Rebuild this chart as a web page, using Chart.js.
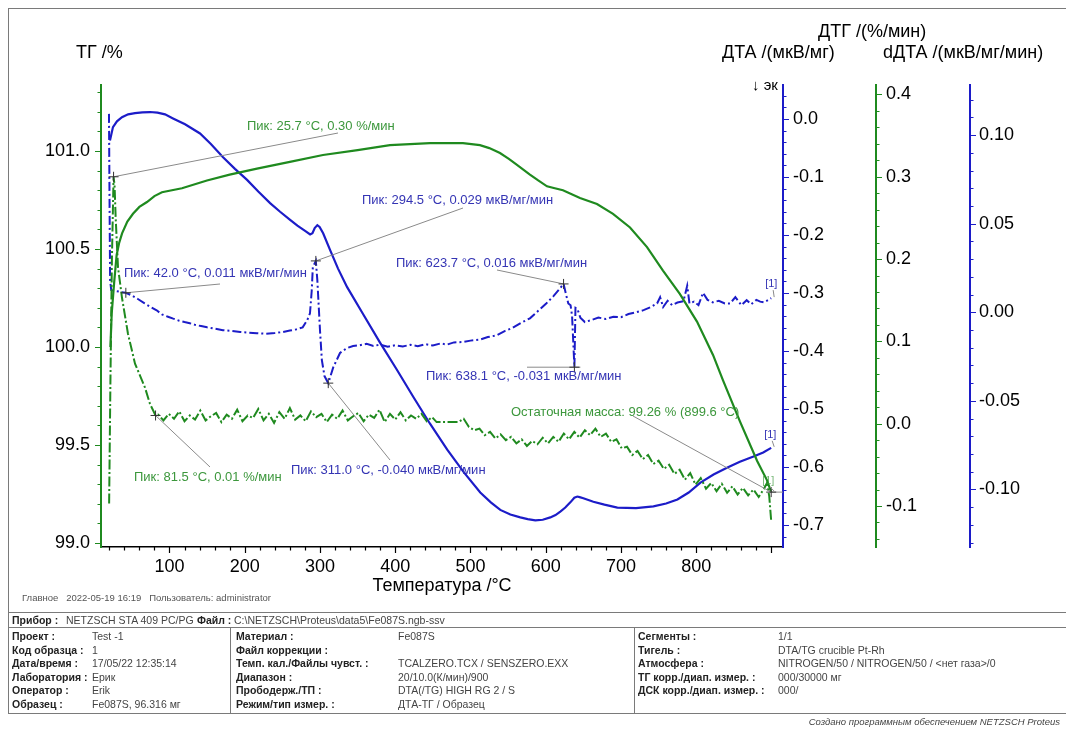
<!DOCTYPE html>
<html>
<head>
<meta charset="utf-8">
<script src="https://cdn.jsdelivr.net/npm/chart.js@4.4.1/dist/chart.umd.min.js"></script>
<style>
  html, body { margin: 0; padding: 0; background: #fff; }
  #page { position: relative; width: 1066px; height: 729px; overflow: hidden;
          font-family: "Liberation Sans", Arial, sans-serif; }
  #plot { position: absolute; left: 0; top: 0; }
  .frame { position: absolute; left: 8px; top: 8px; width: 1070px; height: 706px;
           border: 1px solid #7a7a7a; box-sizing: border-box; }
  .hl { position: absolute; height: 0; border-top: 1px solid #7a7a7a; }
  .vl { position: absolute; width: 0; border-left: 1px solid #7a7a7a; }
  .t { position: absolute; font-size: 10.5px; line-height: 12px; color: #444; white-space: nowrap; }
  .b { font-weight: bold; color: #222; }
  .meta { position: absolute; font-size: 9.5px; line-height: 12px; color: #555; white-space: nowrap; }
  .foot { position: absolute; right: 6px; top: 716px; font-size: 9.5px; line-height: 12px;
          font-style: italic; color: #444; white-space: nowrap; }
</style>
</head>
<body>
<div id="page">
  <div class="frame"></div>
  <canvas id="plot" width="1066" height="729"></canvas>

  <div class="meta" style="left:22px;top:592px">Главное&nbsp;&nbsp;&nbsp;2022-05-19 16:19&nbsp;&nbsp;&nbsp;Пользователь: administrator</div>

  <div class="hl" style="left:8px;top:612px;width:1060px"></div>
  <div class="hl" style="left:8px;top:627px;width:1060px"></div>
  <div class="vl" style="left:230px;top:627px;height:86px"></div>
  <div class="vl" style="left:634px;top:627px;height:86px"></div>

  <div class="t b" style="left:12px;top:614px">Прибор :</div>
  <div class="t" style="left:66px;top:614px">NETZSCH STA 409 PC/PG</div>
  <div class="t b" style="left:197px;top:614px">Файл :</div>
  <div class="t" style="left:234px;top:614px">C:\NETZSCH\Proteus\data5\Fe087S.ngb-ssv</div>

  <div class="t b" style="left:12px;top:630px">Проект :</div>
  <div class="t" style="left:92px;top:630px">Test -1</div>
  <div class="t b" style="left:12px;top:643.5px">Код образца :</div>
  <div class="t" style="left:92px;top:643.5px">1</div>
  <div class="t b" style="left:12px;top:657px">Дата/время :</div>
  <div class="t" style="left:92px;top:657px">17/05/22 12:35:14</div>
  <div class="t b" style="left:12px;top:670.5px">Лаборатория :</div>
  <div class="t" style="left:92px;top:670.5px">Ерик</div>
  <div class="t b" style="left:12px;top:684px">Оператор :</div>
  <div class="t" style="left:92px;top:684px">Erik</div>
  <div class="t b" style="left:12px;top:697.5px">Образец :</div>
  <div class="t" style="left:92px;top:697.5px">Fe087S, 96.316 мг</div>

  <div class="t b" style="left:236px;top:630px">Материал :</div>
  <div class="t" style="left:398px;top:630px">Fe087S</div>
  <div class="t b" style="left:236px;top:643.5px">Файл коррекции :</div>
  <div class="t b" style="left:236px;top:657px">Темп. кал./Файлы чувст. :</div>
  <div class="t" style="left:398px;top:657px">TCALZERO.TCX / SENSZERO.EXX</div>
  <div class="t b" style="left:236px;top:670.5px">Диапазон :</div>
  <div class="t" style="left:398px;top:670.5px">20/10.0(К/мин)/900</div>
  <div class="t b" style="left:236px;top:684px">Прободерж./ТП :</div>
  <div class="t" style="left:398px;top:684px">DTA(/TG) HIGH RG 2 / S</div>
  <div class="t b" style="left:236px;top:697.5px">Режим/тип измер. :</div>
  <div class="t" style="left:398px;top:697.5px">ДТА-ТГ / Образец</div>

  <div class="t b" style="left:638px;top:630px">Сегменты :</div>
  <div class="t" style="left:778px;top:630px">1/1</div>
  <div class="t b" style="left:638px;top:643.5px">Тигель :</div>
  <div class="t" style="left:778px;top:643.5px">DTA/TG crucible Pt-Rh</div>
  <div class="t b" style="left:638px;top:657px">Атмосфера :</div>
  <div class="t" style="left:778px;top:657px">NITROGEN/50 / NITROGEN/50 / &lt;нет газа&gt;/0</div>
  <div class="t b" style="left:638px;top:670.5px">ТГ корр./диап. измер. :</div>
  <div class="t" style="left:778px;top:670.5px">000/30000 мг</div>
  <div class="t b" style="left:638px;top:684px">ДСК корр./диап. измер. :</div>
  <div class="t" style="left:778px;top:684px">000/</div>

  <div class="foot">Создано программным обеспечением NETZSCH Proteus</div>
</div>

<script>
// ---- measured curves: [temperature °C, value] ----
// ТГ, %
const tgCurve = [
  [21.5,100.00],[23.2,100.17],[26.5,100.33],[29.8,100.47],[33.0,100.53],[37.0,100.58],[44.0,100.64],
  [51.5,100.68],[60.0,100.715],[70.1,100.74],[80.0,100.77],[90.0,100.79],[116.6,100.81],[149.8,100.85],
  [180.0,100.88],[216.3,100.91],[260.0,100.945],[304.0,100.98],[350.0,101.005],[393.0,101.03],
  [446.2,101.04],[490.0,101.04],[512.6,101.03],[525.0,101.015],[539.2,100.99],[551.0,100.96],
  [561.8,100.93],[579.0,100.88],[590.0,100.85],[601.7,100.82],[612.0,100.81],[622.9,100.80],
  [645.5,100.76],[668.1,100.73],[689.4,100.68],[712.0,100.61],[734.6,100.51],[755.8,100.39],
  [778.4,100.27],[801.0,100.13],[822.3,99.96],[835.6,99.83],[858.2,99.62],[880.8,99.42],
  [894.1,99.32],[899.6,99.26]
];

// ДТГ, %/мин
const dtgCurve = [
  [19.8,-0.097],[21.5,0.05],[23.5,0.20],[25.7,0.30],[27.0,0.29],[28.5,0.25],[31.6,0.19],[36.9,0.153],
  [44.9,0.109],[54.2,0.073],[67.4,0.044],[74.1,0.024],[81.5,0.010],
  [85,0.011],[92,0.004],[99,0.012],[106,0.006],[113,0.015],[120,0.003],[127,0.010],[134,0.005],
  [141,0.016],[148,0.004],[155,0.009],[162,0.013],[169,0.002],[176,0.011],[183,0.006],[190,0.017],
  [197,0.003],[204,0.010],[211,0.007],[218,0.018],[225,0.004],[232,0.012],[239,0.001],[246,0.014],
  [253,0.006],[260,0.019],[267,0.005],[274,0.010],[281,0.003],[288,0.015],[295,0.008],[302,0.012],
  [309,0.002],[316,0.011],[323,0.006],[330,0.016],[337,0.004],[344,0.009],[351,0.013],[358,0.003],
  [365,0.011],[372,0.007],[379,0.017],[386,0.002],[393,0.012],[400,0.005],[407,0.014],[414,0.004],
  [421,0.010],[428,0.006],[435,0.012],[442,0.003],[449,0.008],[455,0.002],[470,0.002],[484,0.002],
  [491,0.006],[498,-0.004],[505,-0.008],[512,-0.006],[519,-0.014],[526,-0.010],[533,-0.018],
  [540,-0.013],[547,-0.020],[554,-0.016],[561,-0.024],[568,-0.019],[575,-0.027],[582,-0.021],
  [589,-0.025],[596,-0.017],[603,-0.024],[610,-0.016],[617,-0.022],[624,-0.012],[631,-0.019],
  [638,-0.010],[645,-0.017],[652,-0.008],[659,-0.014],[666,-0.006],[673,-0.016],[680,-0.012],
  [687,-0.022],[694,-0.019],[701,-0.030],[708,-0.028],[715,-0.038],[722,-0.033],[729,-0.043],
  [736,-0.038],[743,-0.049],[750,-0.045],[757,-0.055],[764,-0.050],[771,-0.061],[778,-0.056],
  [785,-0.068],[792,-0.060],[799,-0.074],[806,-0.066],[813,-0.079],[820,-0.072],[827,-0.082],
  [834,-0.073],[841,-0.084],[848,-0.076],[855,-0.086],[862,-0.078],[869,-0.087],[876,-0.080],
  [883,-0.089],[890,-0.079],[894,-0.072],[897,-0.088],[899.6,-0.118]
];

// ДТА, мкВ/мг
const dtaCurve = [
  [20.9,-0.037],[24.9,-0.014],[30.2,-0.004],[36.9,0.003],[45,0.008],[54.2,0.010],[64,0.0115],
  [74.1,0.012],[84,0.011],[94.1,0.008],[104.7,0.001],[120.7,-0.009],[140.6,-0.025],[155,-0.043],
  [171.2,-0.066],[187,-0.086],[203.1,-0.105],[218,-0.125],[233.7,-0.145],[247,-0.160],[260.3,-0.174],
  [270,-0.184],[280.2,-0.193],[286.9,-0.199],[290,-0.197],[293,-0.188],[296.5,-0.183],[299.5,-0.186],
  [304.2,-0.197],[313.5,-0.226],[324,-0.258],[336.1,-0.290],[358,-0.338],[380,-0.386],[402,-0.432],
  [423.9,-0.479],[446,-0.525],[469.1,-0.570],[491,-0.609],[513,-0.644],[527,-0.661],[539.6,-0.674],
  [553,-0.682],[566.2,-0.687],[576,-0.690],[586.2,-0.692],[596,-0.691],[606.1,-0.687],[613,-0.683],
  [619.4,-0.677],[626,-0.670],[632.7,-0.661],[638,-0.653],[642,-0.651],[645,-0.652],[650,-0.654],
  [663.3,-0.660],[678,-0.665],[695.2,-0.670],[720,-0.671],[743.1,-0.668],[760,-0.663],[775,-0.656],
  [790,-0.644],[805.6,-0.627],[823,-0.613],[841.5,-0.601],[858,-0.591],[876.1,-0.582],[889,-0.575],
  [899.6,-0.567]
];

// dДТА, мкВ/мг/мин
const ddtaCurve = [
  [19.6,0.112],[20.4,0.06],[21.1,0.018],[22.6,0.0125],[30,0.0119],[36,0.0114],[42.0,0.011],[50,0.0095],
  [58,0.0075],[67,0.005],[75,0.003],[83,0.0011],[90,-0.0012],[98,-0.0025],[105,-0.0036],[112,-0.0046],
  [120,-0.0055],[127,-0.0062],[134,-0.0071],[142,-0.0078],[150,-0.0085],[160,-0.0092],[171,-0.0101],
  [182,-0.0105],[194,-0.0111],[205,-0.0115],[216,-0.0118],[228,-0.0121],[240,-0.0117],[250,-0.0112],
  [260,-0.0103],[268,-0.0097],[277,-0.0085],[283,-0.0045],[286.7,-0.0006],[289,0.012],[290.5,0.0255],
  [294.5,0.029],[296.5,0.018],[298,0.006],[300,-0.010],[302.5,-0.027],[306,-0.036],[311.0,-0.040],
  [317.7,-0.031],[326.6,-0.023],[335.5,-0.0203],[344,-0.019],[353,-0.0186],[362,-0.0178],[371,-0.0190],
  [380,-0.0183],[390,-0.0195],[400,-0.0186],[410,-0.0193],[420,-0.0184],[430,-0.0191],[440,-0.0180],
  [450,-0.0188],[460,-0.0176],[469,-0.0182],[478,-0.0170],[490,-0.0168],[500,-0.0160],[512,-0.0155],
  [523,-0.0140],[535,-0.0130],[546,-0.0105],[556,-0.0088],[567,-0.0060],[579,-0.0034],[590,0.0008],
  [601,0.0051],[610,0.0090],[618.9,0.0135],[623.7,0.016],[627,0.0100],[630,0.0050],[633,0.0040],
  [635,-0.0020],[638.1,-0.031],[639.5,0.0025],[642,0.0020],[646,-0.0030],[652,-0.0055],[660,-0.0045],
  [670,-0.0030],[680,-0.0038],[690,-0.0025],[700,-0.0028],[710,-0.0010],[720,0.0000],[730,0.0012],
  [740,0.0030],[748,0.0050],[752,0.0085],[756,0.0030],[762,0.0065],[768,0.0040],[775,0.0055],
  [783,0.0062],[788,0.0150],[791,0.0050],[797,0.0060],[803,0.0040],[809,0.0110],[815,0.0070],
  [822,0.0056],[830,0.0065],[838,0.0050],[845,0.0050],[852,0.0085],[860,0.0040],[867,0.0068],
  [873,0.0045],[880,0.0070],[885,0.0060],[890,0.0056],[896,0.0070],[899.6,0.0080]
];

// ---- axis ranges and tick labels ----
const tempRange = [9.0, 915.3];
const tempTicks = [100, 200, 300, 400, 500, 600, 700, 800];
const tgRange   = [98.98, 101.337];
const tgTicks   = [99.0, 99.5, 100.0, 100.5, 101.0];
const dtaRange  = [-0.738, 0.0586];
const dtaTicks  = [0.0, -0.1, -0.2, -0.3, -0.4, -0.5, -0.6, -0.7];
const dtgRange  = [-0.1498, 0.4115];
const dtgTicks  = [-0.1, 0.0, 0.1, 0.2, 0.3, 0.4];
const ddtaRange = [-0.1325, 0.1283];
const ddtaTicks = [-0.10, -0.05, 0.00, 0.05, 0.10];

// ---- peak / result labels ----
const peakNotes = [
  { text: 'Пик: 25.7 °C, 0.30 %/мин',          axis: 'yDTG',  t: 25.7,  v: 0.30,   green: true,  tx: 247, ty: 126, lx: 338, ly: 133 },
  { text: 'Пик: 42.0 °C, 0.011 мкВ/мг/мин',     axis: 'yDDTA', t: 42.0,  v: 0.011,  green: false, tx: 124, ty: 273, lx: 220, ly: 284 },
  { text: 'Пик: 294.5 °C, 0.029 мкВ/мг/мин',    axis: 'yDDTA', t: 294.5, v: 0.029,  green: false, tx: 362, ty: 200, lx: 463, ly: 208 },
  { text: 'Пик: 623.7 °C, 0.016 мкВ/мг/мин',    axis: 'yDDTA', t: 623.7, v: 0.016,  green: false, tx: 396, ty: 263, lx: 497, ly: 270 },
  { text: 'Пик: 638.1 °C, -0.031 мкВ/мг/мин',   axis: 'yDDTA', t: 638.1, v: -0.031, green: false, tx: 426, ty: 376, lx: 527, ly: null },
  { text: 'Пик: 311.0 °C, -0.040 мкВ/мг/мин',   axis: 'yDDTA', t: 311.0, v: -0.040, green: false, tx: 291, ty: 470, lx: 390, ly: 460 },
  { text: 'Пик: 81.5 °C, 0.01 %/мин',           axis: 'yDTG',  t: 81.5,  v: 0.01,   green: true,  tx: 134, ty: 477, lx: 210, ly: 467 },
  { text: 'Остаточная масса: 99.26 % (899.6 °C)', axis: 'yTG', t: 899.6, v: 99.26,  green: true,  tx: 511, ty: 412, lx: 633, ly: 416, toAxis: true }
];

const FONT = '"Liberation Sans", Arial, sans-serif';
const GREEN = '#1f8a1f';
const BLUE = '#1c1cc8';
const TEXT_GREEN = '#3c973c';
const TEXT_BLUE = '#3434b4';

const toXY = arr => arr.map(p => ({ x: p[0], y: p[1] }));
const fixedTicks = list => scale => { scale.ticks = list.map(v => ({ value: v })); };

function yAxis(pos, range, ticks, color, width, pad, digits) {
  return {
    type: 'linear', position: pos, min: range[0], max: range[1],
    afterFit: s => { s.width = width; },
    afterBuildTicks: fixedTicks(ticks),
    grid: { display: false, drawTicks: false },
    border: { display: true, color: color, width: 2 },
    ticks: { padding: pad, color: '#000', font: { family: FONT, size: 18 }, autoSkip: false,
             callback: v => Number(v).toFixed(digits) }
  };
}

// minor/major tick marks along each axis line
const tickMarks = [
  { id: 'x',     side: 'bottom', from: 20,    to: 900,  minor: 20,   major: 100,  color: '#000' },
  { id: 'yTG',   side: 'left',   from: 99.0,  to: 101.3, minor: 0.1, major: 0.5,  color: GREEN },
  { id: 'yDTA',  side: 'right',  from: -0.72, to: 0.04, minor: 0.02, major: 0.1,  color: BLUE },
  { id: 'yDTG',  side: 'right',  from: -0.14, to: 0.40, minor: 0.02, major: 0.1,  color: GREEN },
  { id: 'yDDTA', side: 'right',  from: -0.13, to: 0.12, minor: 0.01, major: 0.05, color: BLUE }
];

const decor = {
  id: 'decor',
  afterDraw(chart) {
    const ctx = chart.ctx;
    ctx.save();
    tickMarks.forEach(m => {
      const s = chart.scales[m.id];
      ctx.strokeStyle = m.color;
      ctx.lineWidth = 1.2;
      const n = Math.round((m.to - m.from) / m.minor);
      ctx.beginPath();
      for (let i = 0; i <= n; i++) {
        const v = m.from + i * m.minor;
        const r = v / m.major;
        const len = Math.abs(r - Math.round(r)) < 1e-6 ? 6 : 3.5;
        const p = Math.round(s.getPixelForValue(v)) + 0.5;
        if (m.side === 'bottom') { ctx.moveTo(p, s.top); ctx.lineTo(p, s.top + len); }
        else if (m.side === 'left') { ctx.moveTo(s.right, p); ctx.lineTo(s.right - len, p); }
        else { ctx.moveTo(s.left, p); ctx.lineTo(s.left + len, p); }
      }
      ctx.stroke();
    });

    // axis titles
    ctx.fillStyle = '#000';
    ctx.textBaseline = 'middle';
    ctx.textAlign = 'left';
    ctx.font = '18px ' + FONT;
    ctx.fillText('ТГ /%', 76, 53);
    ctx.fillText('ДТГ /(%/мин)', 818, 32);
    ctx.fillText('ДТА /(мкВ/мг)', 722, 53);
    ctx.fillText('dДТА /(мкВ/мг/мин)', 883, 53);
    ctx.font = '15px ' + FONT;
    ctx.fillText('↓ эк', 752, 86);
    ctx.restore();
  },
  afterDatasetsDraw(chart) {
    const ctx = chart.ctx;
    const xs = chart.scales.x;
    ctx.save();
    ctx.font = '13px ' + FONT;
    ctx.textBaseline = 'middle';
    ctx.textAlign = 'left';
    peakNotes.forEach(n => {
      const px = xs.getPixelForValue(n.t);
      const py = chart.scales[n.axis].getPixelForValue(n.v);
      ctx.strokeStyle = '#8a8a8a';
      ctx.lineWidth = 1;
      ctx.beginPath();
      if (n.ly === null) { ctx.moveTo(n.lx, py); ctx.lineTo(px + 6, py); }
      else { ctx.moveTo(n.lx, n.ly); ctx.lineTo(px, py); }
      if (n.toAxis) { ctx.moveTo(px, py); ctx.lineTo(chart.chartArea.right, py); }
      ctx.stroke();
      ctx.strokeStyle = '#333';
      ctx.beginPath();
      ctx.moveTo(px - 5, py); ctx.lineTo(px + 5, py);
      ctx.moveTo(px, py - 5); ctx.lineTo(px, py + 5);
      ctx.stroke();
      ctx.fillStyle = n.green ? TEXT_GREEN : TEXT_BLUE;
      ctx.fillText(n.text, n.tx, n.ty);
    });

    // segment tags at the curve ends
    ctx.font = '11px ' + FONT;
    const tags = [
      { axis: 'yDDTA', curve: ddtaCurve, color: TEXT_BLUE, dx: -6, dy: -14 },
      { axis: 'yDTA',  curve: dtaCurve,  color: TEXT_BLUE, dx: -7, dy: -13 },
      { axis: 'yTG',   curve: tgCurve,   color: 'rgba(60,151,60,0.7)', dx: -9, dy: -11 }
    ];
    tags.forEach(g => {
      const last = g.curve[g.curve.length - 1];
      const px = xs.getPixelForValue(last[0]);
      const py = chart.scales[g.axis].getPixelForValue(last[1]);
      ctx.fillStyle = g.color;
      ctx.fillText('[1]', px + g.dx, py + g.dy);
      ctx.strokeStyle = '#8a8a8a';
      ctx.beginPath();
      ctx.moveTo(px + g.dx + 8, py + g.dy + 6);
      ctx.lineTo(px + 3, py - 1);
      ctx.stroke();
    });
    ctx.restore();
  }
};

new Chart(document.getElementById('plot'), {
  type: 'line',
  data: {
    datasets: [
      { label: 'ТГ', data: toXY(tgCurve), yAxisID: 'yTG', borderColor: GREEN, borderWidth: 2.2 },
      { label: 'ДТГ', data: toXY(dtgCurve), yAxisID: 'yDTG', borderColor: GREEN, borderWidth: 2,
        borderDash: [10, 2.5, 2, 2.5] },
      { label: 'ДТА', data: toXY(dtaCurve), yAxisID: 'yDTA', borderColor: BLUE, borderWidth: 2.2 },
      { label: 'dДТА', data: toXY(ddtaCurve), yAxisID: 'yDDTA', borderColor: BLUE, borderWidth: 2,
        borderDash: [9, 3, 2, 3] }
    ]
  },
  options: {
    responsive: false,
    animation: false,
    devicePixelRatio: 1,
    layout: { padding: { left: 0, right: 0, top: 85, bottom: 132 } },
    elements: { point: { radius: 0 }, line: { tension: 0, fill: false } },
    plugins: { legend: { display: false }, tooltip: { enabled: false } },
    scales: {
      x: {
        type: 'linear', position: 'bottom', min: tempRange[0], max: tempRange[1],
        afterFit: s => { s.height = 50; },
        afterBuildTicks: fixedTicks(tempTicks),
        grid: { display: false, drawTicks: false },
        border: { display: true, color: '#000', width: 1.5 },
        ticks: { padding: 9, color: '#000', font: { family: FONT, size: 18 }, maxRotation: 0,
                 autoSkip: false, callback: v => String(v) },
        title: { display: true, text: 'Температура /°C', color: '#000',
                 font: { family: FONT, size: 18 }, padding: { top: 0, bottom: 0 } }
      },
      yTG:   yAxis('left',  tgRange,   tgTicks,   GREEN, 101, 11, 1),
      yDTA:  yAxis('right', dtaRange,  dtaTicks,  BLUE,  93,  10, 1),
      yDTG:  yAxis('right', dtgRange,  dtgTicks,  GREEN, 94,  10, 1),
      yDDTA: yAxis('right', ddtaRange, ddtaTicks, BLUE,  96,  9,  2)
    }
  },
  plugins: [decor]
});
</script>
</body>
</html>
